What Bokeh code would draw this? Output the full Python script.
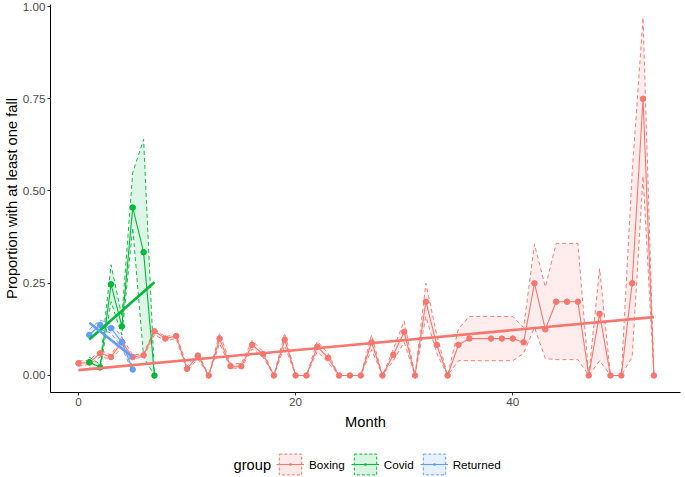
import numpy as np
from bokeh.plotting import figure
from bokeh.layouts import column
from bokeh.models import Range1d, FixedTicker, Legend, LegendItem, PrintfTickFormatter, Label
from bokeh.embed import file_html
from bokeh.resources import INLINE

FONT = "Liberation Sans"

# ---------------- data ----------------
groups = ["Boxing", "Covid", "Returned"]
colors = ["#F8766D", "#00BA38", "#619CFF"]

boxing_month = [0, 1, 2, 3, 4, 5, 6, 7, 8, 9, 10, 11, 12, 13, 14, 15, 16, 17, 18, 19,
                20, 21, 22, 23, 24, 25, 26, 27, 28, 29, 30, 31, 32, 33, 34, 35, 36,
                38, 39, 40, 41, 42, 43, 44, 45, 46, 47, 48, 49, 50, 51, 52, 53]
boxing_prop = [0.033, 0.035, 0.06, 0.05, 0.09, 0.05, 0.055, 0.12, 0.10, 0.107, 0.018, 0.054,
               0.0, 0.10, 0.025, 0.025, 0.083, 0.058, 0.0, 0.097, 0.0, 0.0, 0.078, 0.048,
               0.0, 0.0, 0.0, 0.09, 0.0, 0.056, 0.118, 0.0, 0.20, 0.083, 0.0, 0.083, 0.10,
               0.10, 0.10, 0.10, 0.09, 0.25, 0.125, 0.20, 0.20, 0.20, 0.0, 0.167, 0.0, 0.0,
               0.25, 0.75, 0.0]
boxing_lo = [0.025, 0.03, 0.05, 0.045, 0.075, 0.045, 0.05, 0.11, 0.095, 0.10, 0.012, 0.045,
             0.0, 0.087, 0.02, 0.02, 0.072, 0.05, 0.0, 0.08, 0.0, 0.0, 0.065, 0.035,
             0.0, 0.0, 0.0, 0.07, 0.0, 0.04, 0.09, 0.0, 0.16, 0.06, 0.0, 0.04, 0.04,
             0.04, 0.04, 0.04, 0.06, 0.13, 0.046, 0.043, 0.043, 0.043, 0.0, 0.04, 0.0, 0.0,
             0.05, 0.54, 0.0]
boxing_hi = [0.04, 0.04, 0.07, 0.055, 0.105, 0.055, 0.06, 0.125, 0.105, 0.112, 0.025, 0.062,
             0.0, 0.115, 0.032, 0.032, 0.095, 0.065, 0.0, 0.115, 0.0, 0.0, 0.093, 0.06,
             0.0, 0.0, 0.0, 0.11, 0.0, 0.072, 0.148, 0.0, 0.25, 0.11, 0.0, 0.127, 0.16,
             0.16, 0.16, 0.16, 0.13, 0.356, 0.24, 0.358, 0.358, 0.358, 0.0, 0.29, 0.0, 0.0,
             0.55, 0.97, 0.0]

covid_month = [1, 2, 3, 4, 5, 6, 7]
covid_prop = [0.036, 0.022, 0.247, 0.133, 0.455, 0.334, 0.0]
covid_lo = [0.02, 0.015, 0.20, 0.11, 0.40, 0.05, 0.0]
covid_hi = [0.05, 0.03, 0.30, 0.16, 0.55, 0.64, 0.0]

returned_month = [1, 2, 3, 4, 5]
returned_prop = [0.11, 0.137, 0.128, 0.09, 0.016]
returned_lo = [0.10, 0.125, 0.115, 0.075, 0.01]
returned_hi = [0.125, 0.15, 0.14, 0.105, 0.022]

x_ticks = [0, 20, 40]
y_ticks = [0.0, 0.25, 0.5, 0.75, 1.0]

series = [
    (boxing_month, boxing_prop, boxing_lo, boxing_hi),
    (covid_month, covid_prop, covid_lo, covid_hi),
    (returned_month, returned_prop, returned_lo, returned_hi),
]

# ---------------- main figure ----------------
p = figure(width=685, height=444, output_backend="svg", toolbar_location=None,
           x_range=Range1d(-2.575, 55.45), y_range=Range1d(-0.0461, 1.0054),
           min_border_left=49, min_border_right=5, min_border_top=4, min_border_bottom=52)
p.outline_line_color = None
p.xgrid.visible = False
p.ygrid.visible = False
p.background_fill_color = "white"

for (m, v, lo, hi), c in zip(series, colors):
    p.varea(x=m, y1=lo, y2=hi, fill_color=c, fill_alpha=0.13)
for (m, v, lo, hi), c in zip(series, colors):
    p.line(m, lo, line_color=c, line_width=1, line_dash="4 3", line_alpha=0.95)
    p.line(m, hi, line_color=c, line_width=1, line_dash="4 3", line_alpha=0.95)
for (m, v, lo, hi), c in zip(series, colors):
    p.line(m, v, line_color=c, line_width=1.1)
for (m, v, lo, hi), c in zip(series, colors):
    p.scatter(m, v, size=5.5, fill_color=c, line_color=c, marker="circle")

# linear trends (least squares on each group's points)
for (m, v, lo, hi), c in zip(series, colors):
    slope, icpt = np.polyfit(np.array(m, float), np.array(v, float), 1)
    xs = np.array([min(m), max(m)], float)
    p.line(xs, icpt + slope * xs, line_color=c, line_width=2.6)

for ax in (p.xaxis[0], p.yaxis[0]):
    ax.axis_line_color = "black"
    ax.axis_line_width = 1
    ax.major_tick_line_color = "#333333"
    ax.major_tick_out = 3
    ax.major_tick_in = 0
    ax.minor_tick_line_color = None
    ax.major_label_text_font = FONT
    ax.major_label_text_font_size = "11.7px"
    ax.major_label_text_color = "#4D4D4D"
    ax.axis_label_text_font = FONT
    ax.axis_label_text_font_size = "14.7px"
    ax.axis_label_text_font_style = "normal"
    ax.axis_label_text_color = "black"
    ax.major_label_standoff = 2

p.xaxis[0].ticker = FixedTicker(ticks=x_ticks)
p.yaxis[0].ticker = FixedTicker(ticks=y_ticks)
p.yaxis[0].formatter = PrintfTickFormatter(format="%.2f")
p.xaxis[0].axis_label = "Month"
p.yaxis[0].axis_label = "Proportion with at least one fall"
p.xaxis[0].axis_label_standoff = 5
p.yaxis[0].axis_label_standoff = 0

# ---------------- legend strip ----------------
lg = figure(width=685, height=33, output_backend="svg", toolbar_location=None,
            x_range=Range1d(0, 685), y_range=Range1d(0, 33),
            x_axis_location=None, y_axis_location=None,
            min_border_left=0, min_border_right=0, min_border_top=0, min_border_bottom=0)
lg.outline_line_color = None
lg.xgrid.visible = False
lg.ygrid.visible = False

items = []
for g, c in zip(groups, colors):
    b = lg.quad(left=[np.nan], right=[np.nan], top=[np.nan], bottom=[np.nan],
                fill_color=c, fill_alpha=0.15, line_color=c, line_width=1, line_dash="3 2")
    l = lg.line(x=[np.nan, np.nan], y=[np.nan, np.nan], line_color=c, line_width=1.1)
    d = lg.scatter(x=[np.nan], y=[np.nan], marker="dot", size=8,
                   line_color=c, fill_color=c, line_width=2)
    items.append(LegendItem(label=g, renderers=[b, l, d]))

legend = Legend(items=items, orientation="horizontal", location=(226, 0),
                border_line_color=None, background_fill_alpha=0,
                label_text_font=FONT, label_text_font_size="11.7px", label_text_color="black",
                glyph_width=28, glyph_height=26, spacing=6, label_standoff=5,
                padding=0, margin=0)
lg.add_layout(legend, "center")
lg.add_layout(Label(x=199, y=13, text="group", text_font=FONT, text_font_size="14.7px",
                    text_color="black", text_baseline="middle", text_align="left"))

layout = column(p, lg, spacing=0)
open("out.html", "w").write(file_html(layout, INLINE))
